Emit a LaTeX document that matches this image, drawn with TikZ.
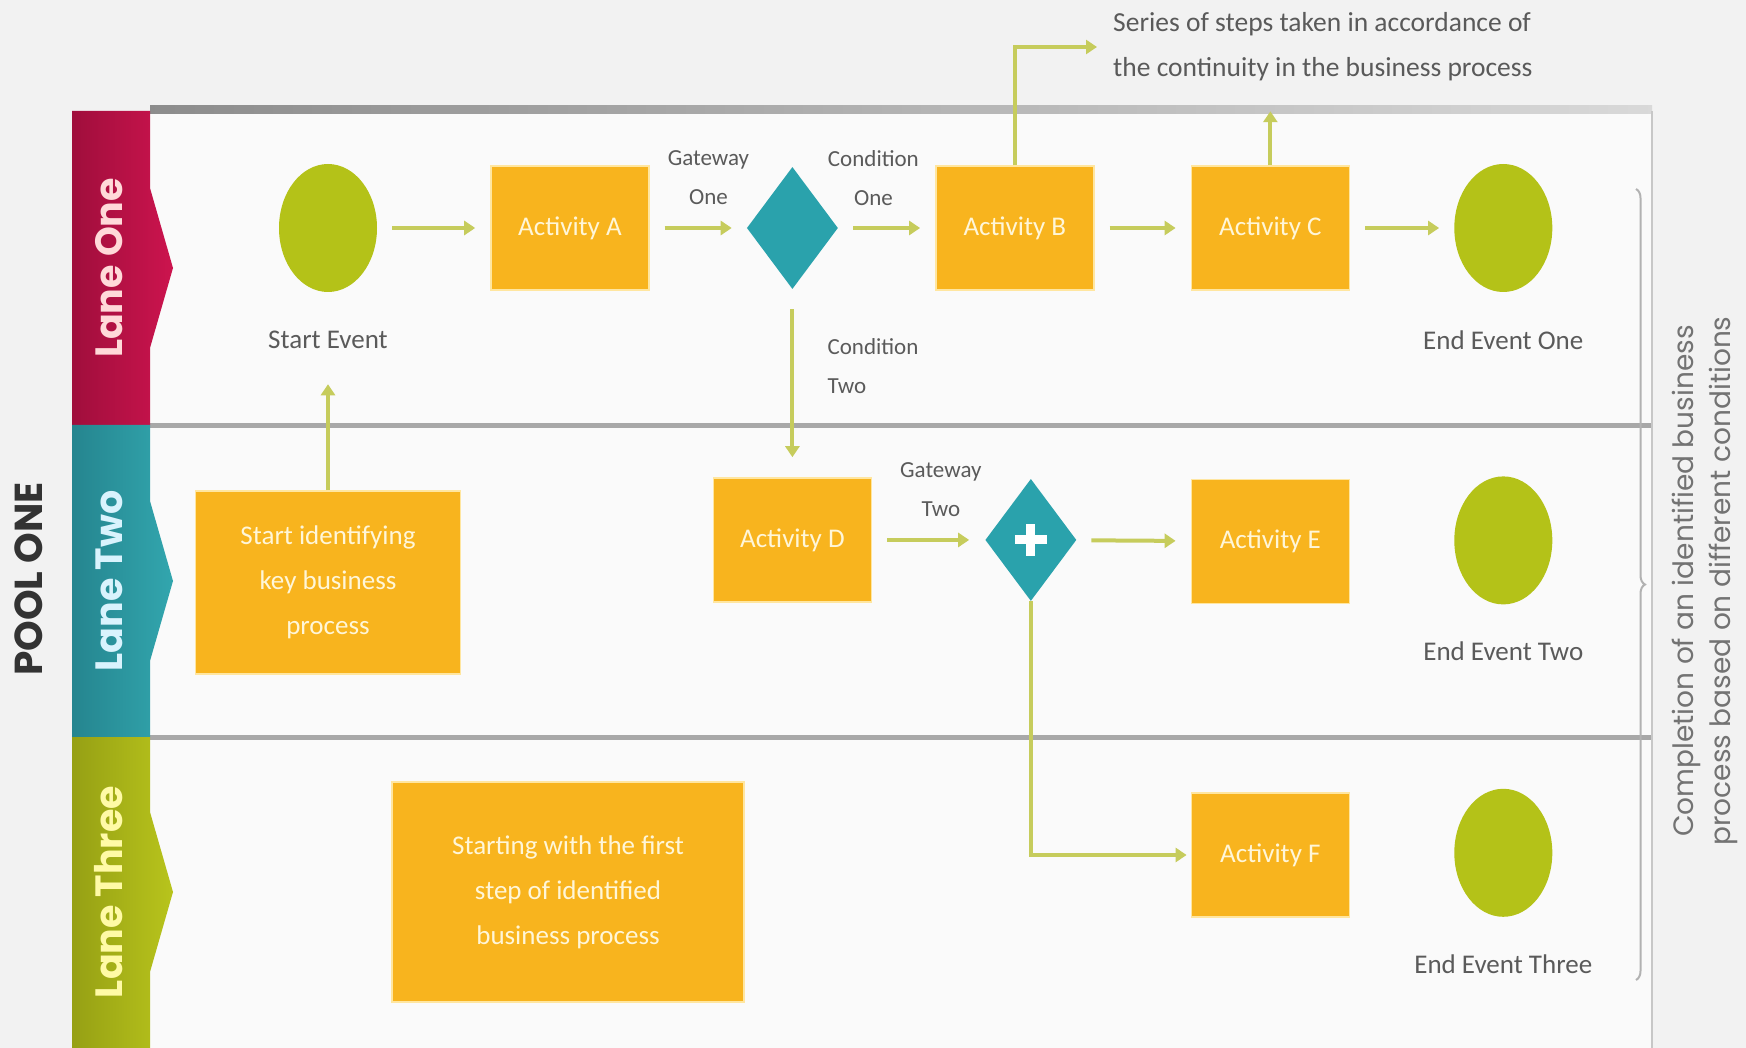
\documentclass[tikz,border=0pt]{standalone}
\usepackage{fontspec}
\setmainfont{Carlito}
\newfontfamily\gothic{Poppins}
\usetikzlibrary{positioning,shapes.geometric,arrows.meta,decorations.pathreplacing}

\definecolor{paper}{HTML}{F2F2F2}
\definecolor{poolbg}{HTML}{FAFAFA}
\definecolor{actorange}{HTML}{F8B41E}
\definecolor{actrim}{HTML}{FFE6A0}
\definecolor{acttext}{HTML}{FFF6D8}
\definecolor{evgreen}{HTML}{B4C218}
\definecolor{gwteal}{HTML}{2AA2AC}
\definecolor{flowgreen}{HTML}{C6CC5C}
\definecolor{lblgrey}{HTML}{5A5A5A}
\definecolor{rulegrey}{HTML}{A8A8A8}
\definecolor{laneone}{HTML}{CC144E}
\definecolor{laneonedk}{HTML}{A00E3C}
\definecolor{lanetwo}{HTML}{32A6AE}
\definecolor{lanetwodk}{HTML}{25858F}
\definecolor{lanethree}{HTML}{B8C41C}
\definecolor{lanethreedk}{HTML}{96A014}

\tikzset{
  activity/.style={rectangle, fill=actorange, draw=actrim, line width=1.5pt,
    minimum width=158pt, minimum height=124pt, inner sep=4pt, text=acttext,
    align=center, font=\fontsize{27}{45}\selectfont},
  event/.style={ellipse, fill=evgreen, minimum width=98pt, minimum height=128pt, inner sep=0pt},
  gateway/.style={diamond, fill=gwteal, minimum width=91pt, minimum height=122pt, inner sep=0pt},
  gwplus/.style={gateway, path picture={
      \draw[white, line width=9pt]
        ([xshift=-16pt]path picture bounding box.center) -- ([xshift=16pt]path picture bounding box.center)
        ([yshift=-16pt]path picture bounding box.center) -- ([yshift=16pt]path picture bounding box.center);}},
  evlbl/.style={text=lblgrey, inner sep=0pt, font=\fontsize{27}{32}\selectfont},
  gwlbl/.style={text=lblgrey, inner sep=0pt, align=center, font=\fontsize{23}{39}\selectfont},
  flow/.style={draw=flowgreen, line width=4pt, -{Triangle[length=11pt,width=14pt]},
    shorten <=15pt, shorten >=15pt},
  lanelbl/.style={rotate=90, inner sep=0pt, font=\gothic\bfseries\fontsize{38}{42}\selectfont},
}

\begin{document}
\begin{tikzpicture}[x=1pt, y=-1pt]

    % Canvas and pool
    \fill[paper] (0,0) rectangle (1746,1048);
    \useasboundingbox (0,0) rectangle (1746,1048);
    \fill[poolbg] (150,111) rectangle (1652,1048);
    \shade[left color=black!45, right color=black!15] (150,106) rectangle (1652,114);
    \fill[rulegrey] (150,423) rectangle (1652,428);
    \fill[rulegrey] (150,735) rectangle (1652,740);
    \draw[black!22, line width=2pt] (1652,111) -- (1652,1048);

    % Lane tabs
    \shade[left color=laneonedk, right color=laneone]
      (72,111) -- (150,111) -- (150,188) -- (173,268) -- (150,348) -- (150,425) -- (72,425) -- cycle;
    \shade[left color=lanetwodk, right color=lanetwo]
      (72,425) -- (150,425) -- (150,501) -- (173,581) -- (150,661) -- (150,737) -- (72,737) -- cycle;
    \shade[left color=lanethreedk, right color=lanethree]
      (72,737) -- (150,737) -- (150,812) -- (173,892) -- (150,972) -- (150,1048) -- (72,1048) -- cycle;

    \node[lanelbl, text=red!15]          (laneA) at (109,268) {Lane One};
    \node[lanelbl, text=cyan!15]         (laneB) at (109,581) {Lane Two};
    \node[lanelbl, text=yellow!35]       (laneC) at (109,892) {Lane Three};
    \node[rotate=90, inner sep=0pt, text=black!80,
          font=\gothic\bfseries\fontsize{39}{42}\selectfont] (pool) at (29,579) {POOL ONE};

    % Define nodes
    \node[event]                      (start) at (328,228) {};
    \node[activity, right=113pt of start] (actA) {Activity A};
    \node[gateway, right=97pt of actA]    (gw1) {};
    \node[activity, right=97pt of gw1]    (actB) {Activity B};
    \node[activity, right=96pt of actB]   (actC) {Activity C};
    \node[event, right=104pt of actC]     (end1) {};

    \node[activity, below=188pt of gw1]   (actD) {Activity D};
    \node[gwplus, right=113pt of actD]    (gw2) {};
    \node[activity, below=188pt of actC]  (actE) {Activity E};
    \node[event, below=184pt of end1]     (end2) {};

    \node[activity, below=188pt of actE]  (actF) {Activity F};
    \node[event, below=184pt of end2]     (end3) {};

    \node[activity, below=198pt of start, minimum width=265pt, minimum height=183pt]
                                          (startbox) {Start identifying\\key business\\process};
    \node[activity, minimum width=352pt, minimum height=220pt]
                                  (firstbox) at (568,892) {Starting with the first\\step of identified\\business process};

    % Labels
    \node[evlbl] (startlbl) at ([yshift=-48pt]start.south) {Start Event};
    \node[evlbl] (end1lbl) at ([yshift=-48pt]end1.south) {End Event One};
    \node[evlbl] (end2lbl) at ([yshift=-47pt]end2.south) {End Event Two};
    \node[evlbl] (end3lbl) at ([yshift=-47pt]end3.south) {End Event Three};
    \node[gwlbl] (gw1lbl) at ([xshift=-84pt, yshift=50pt]gw1.center) {Gateway\\One};
    \node[gwlbl] (cond1)  at ([xshift=81pt, yshift=50pt]gw1.center) {Condition\\One};
    \node[gwlbl, anchor=west, align=left] (cond2) at ([xshift=35pt, yshift=-138pt]gw1.center) {Condition\\Two};
    \node[gwlbl] (gw2lbl) at ([xshift=-90pt, yshift=50pt]gw2.center) {Gateway\\Two};

    \node[evlbl, anchor=west, align=left, font=\fontsize{27.5}{45}\selectfont]
      (note) at (1113,47) {Series of steps taken in accordance of\\the continuity in the business process};
    \node[rotate=90, inner sep=0pt, align=center, text=black!55,
          font=\gothic\fontsize{28}{37}\selectfont]
      (summary) at (1705,581) {Completion of an identified business\\process based on different conditions};
    \coordinate[above=54pt of actC] (ctop);

    % Connect the nodes
    \draw[flow] (start) -- (actA);
    \draw[flow] (actA) -- (gw1);
    \draw[flow] (gw1) -- (actB);
    \draw[flow] (actB) -- (actC);
    \draw[flow] (actC) -- (end1);
    \draw[flow, shorten <=20pt, shorten >=20pt] (gw1) -- (actD);
    \draw[flow, shorten <=0pt, shorten >=16pt] (actB.north) |- (note.west);
    \draw[flow, shorten <=0pt, shorten >=0pt] (actC.north) -- (ctop);
    \draw[flow, shorten <=0pt, shorten >=35pt] (startbox.north) -- (startlbl.south);
    \draw[flow, shorten >=16pt] (actD) -- (gw2);
    \draw[flow] (gw2) -- (actE);
    \draw[flow, shorten <=0pt, shorten >=4pt] (gw2.south) |- (actF.west);

    % Bracket
    \draw[black!30, line width=2pt, decorate, decoration={brace, amplitude=9pt}]
      (1636,189) -- (1636,980);

\end{tikzpicture}
\end{document}
